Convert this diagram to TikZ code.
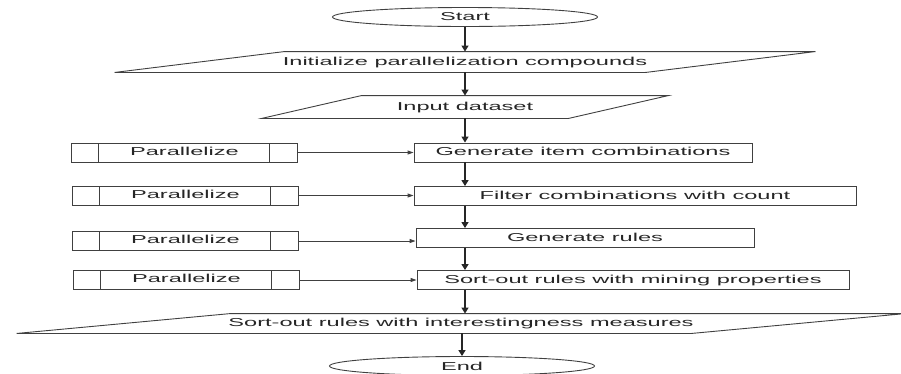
\documentclass[tikz,border=0pt]{standalone}
\usepackage{fontspec}
\setmainfont[FakeStretch=2.05]{Liberation Sans}
\usepackage{tikz}
\usetikzlibrary{shapes.geometric,arrows.meta}

\begin{document}
\begin{tikzpicture}[x=1pt,y=-1pt,line width=0.9pt,font=\fontsize{11.5}{13}\selectfont,
        term node/.style={ellipse,draw=black!75,text=black!85,minimum width=265pt,minimum height=19pt,inner sep=0pt},
        io node/.style={rectangle,text=black!85,text depth=2pt,minimum height=20pt,inner sep=0pt},
        proc node/.style={rectangle,draw=black!75,text=black!85,text depth=2pt,minimum height=19pt,inner sep=0pt},
        par node/.style={rectangle,draw=black!75,text=black!85,text depth=2.5pt,minimum width=226pt,minimum height=19pt,inner sep=0pt,
            path picture={\draw[black!75] ([xshift=27]path picture bounding box.north west) -- ([xshift=27]path picture bounding box.south west)
                ([xshift=-28]path picture bounding box.north east) -- ([xshift=-28]path picture bounding box.south east);}},
        flow/.style={-{Triangle[length=6pt,width=7pt]},line width=1.3pt,black!85},
        feed/.style={-{Triangle[length=6pt,width=4pt]},black!75}]
        \useasboundingbox (0,0) rectangle (901,373);
        \node[term node] (start) at (465,17) {Start};
        \node[io node,minimum width=530pt] (init) at (465,62) {Initialize parallelization compounds};
        \node[io node,minimum width=306pt,minimum height=22pt] (input) at (465,107) {Input dataset};
        \node[proc node,minimum width=338pt] (gen) at (583,152.5) {Generate item combinations};
        \node[proc node,minimum width=442pt] (filt) at (635,196) {Filter combinations with count};
        \node[proc node,minimum width=338pt] (rules) at (585,238) {Generate rules};
        \node[proc node,minimum width=432pt] (sortm) at (633,280) {Sort-out rules with mining properties};
        \node[io node,minimum width=674pt,minimum height=19pt] (sorti) at (461,323.5) {Sort-out rules with interestingness measures};
        \node[term node] (end) at (462,366) {End};
        \node[par node] (par1) at (184.5,152.5) {Parallelize};
        \node[par node] (par2) at (185.5,195.5) {Parallelize};
        \node[par node] (par3) at (185.5,241) {Parallelize};
        \node[par node] (par4) at (186.5,280) {Parallelize};
        % slanted outlines of the data boxes
        \foreach \n/\s in {init/85,input/50,sorti/107}
            \draw[black!75] ([xshift=-\s]\n.south west) -- ([xshift=\s]\n.north west)
                -- ([xshift=\s]\n.north east) -- ([xshift=-\s]\n.south east) -- cycle;
        \path[flow]
            (start) edge (init)
            (init) edge (input);
        \draw[flow] (input.south) -- (input.south |- gen.north);
        \draw[flow] (gen.south -| input) -- (filt.north -| input);
        \draw[flow] (filt.south -| input) -- (rules.north -| input);
        \draw[flow] (rules.south -| input) -- (sortm.north -| input);
        \draw[flow] (sortm.south -| input) -- (sorti.north -| input);
        \draw[flow] (sorti.south -| end) -- (end.north);
        \draw[feed] (par1.east) -- (par1.east -| gen.west);
        \draw[feed] (par2.east) -- (par2.east -| filt.west);
        \draw[feed] (par3.east) -- (par3.east -| rules.west);
        \draw[feed] (par4.east) -- (par4.east -| sortm.west);
    \end{tikzpicture}
\end{document}
